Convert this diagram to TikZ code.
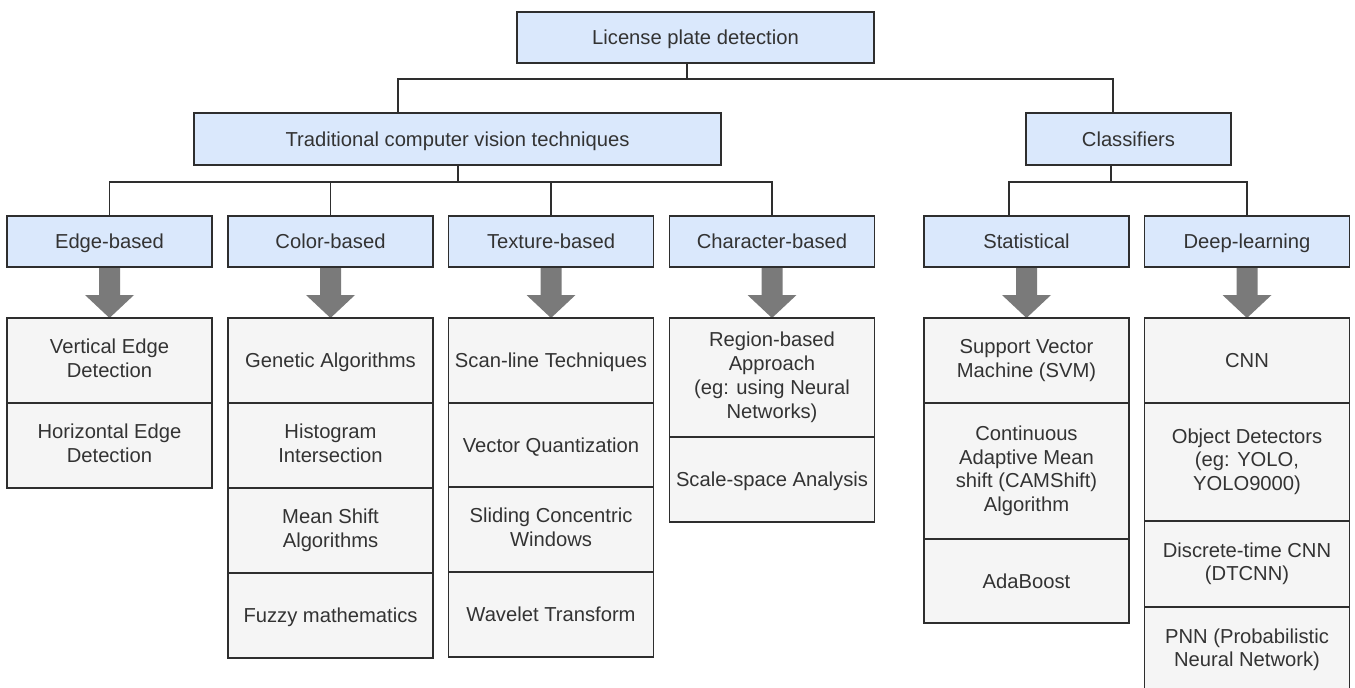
\documentclass[tikz,border=0pt]{standalone}
\usepackage{fontspec}
\setmainfont{Liberation Sans}
\usetikzlibrary{calc,backgrounds}
\definecolor{linec}{HTML}{2E2E2E}
\definecolor{textc}{HTML}{333333}
\definecolor{bluef}{HTML}{DAE8FC}
\definecolor{grayf}{HTML}{F5F5F5}
\definecolor{arrowc}{HTML}{7A7A7A}
\newcommand\mystrut{\rule[-4.65pt]{0pt}{23.7pt}}
\newcommand\fatarrow[2]{\fill[arrowc] ($(#1.south)+(-10.5,0)$) -- ($(#2.north)+(-10.5,-23)$) -- ($(#2.north)+(-24.5,-23)$) -- (#2.north) -- ($(#2.north)+(24.5,-23)$) -- ($(#2.north)+(10.5,-23)$) -- ($(#1.south)+(10.5,0)$) -- cycle;}
\tikzset{
  base/.style={draw=linec, line width=1.8pt, text=textc, align=center, inner sep=0pt, outer sep=0pt, font=\fontsize{20.2pt}{23.7pt}\selectfont, execute at begin node=\mystrut, execute at end node=\mystrut},
  cat/.style={base, fill=bluef, minimum height=51pt},
  leaf/.style={base, fill=grayf, minimum width=205pt, anchor=north},
  conn/.style={draw=linec, line width=1.8pt}
}
\begin{document}
\begin{tikzpicture}[x=1pt,y=-1pt]
\clip (0,0) rectangle (1355,688);
% top levels
\node[cat, minimum width=357pt] (top) at (695.5,37.5) {License plate detection};
\node[cat, minimum width=527pt, minimum height=52pt] (trad) at (457.5,139) {Traditional computer vision techniques};
\node[cat, minimum width=205pt, minimum height=52pt] (cls) at (1128.5,139) {Classifiers};
% categories
\node[cat, minimum width=205pt] (edge) at (109.5,241.5) {Edge-based};
\node[cat, minimum width=205pt] (color) at (330.5,241.5) {Color-based};
\node[cat, minimum width=205pt] (tex) at (551,241.5) {Texture-based};
\node[cat, minimum width=205pt] (chr) at (772,241.5) {Character-based};
\node[cat, minimum width=205pt] (stat) at (1026.5,241.5) {Statistical};
\node[cat, minimum width=205pt] (deep) at (1247,241.5) {Deep-learning};
% leaves: edge
\node[leaf, minimum height=85pt] (e1) at (109.5,318) {Vertical Edge\\Detection};
\node[leaf, minimum height=85pt] (e2) at (e1.south) {Horizontal Edge\\Detection};
% color
\node[leaf, minimum height=85pt] (c1) at (330.5,318) {Genetic Algorithms};
\node[leaf, minimum height=85pt] (c2) at (c1.south) {Histogram\\Intersection};
\node[leaf, minimum height=85pt] (c3) at (c2.south) {Mean Shift\\Algorithms};
\node[leaf, minimum height=85pt] (c4) at (c3.south) {Fuzzy mathematics};
% texture
\node[leaf, minimum height=85pt] (t1) at (551,318) {Scan-line Techniques};
\node[leaf, minimum height=84pt] (t2) at (t1.south) {Vector Quantization};
\node[leaf, minimum height=85pt] (t3) at (t2.south) {Sliding Concentric\\Windows};
\node[leaf, minimum height=85pt] (t4) at (t3.south) {Wavelet Transform};
% character
\node[leaf, minimum height=119pt] (r1) at (772,318) {Region-based\\Approach\\(eg: using Neural\\Networks)};
\node[leaf, minimum height=85pt] (r2) at (r1.south) {Scale-space Analysis};
% statistical
\node[leaf, minimum height=85pt] (s1) at (1026.5,318) {Support Vector\\Machine (SVM)};
\node[leaf, minimum height=136pt] (s2) at (s1.south) {Continuous\\Adaptive Mean\\shift (CAMShift)\\Algorithm};
\node[leaf, minimum height=84pt] (s3) at (s2.south) {AdaBoost};
% deep learning
\node[leaf, minimum height=85pt] (d1) at (1247,318) {CNN};
\node[leaf, minimum height=118pt] (d2) at (d1.south) {Object Detectors\\(eg: YOLO,\\YOLO9000)};
\node[leaf, minimum height=86pt] (d3) at (d2.south) {Discrete-time CNN\\(DTCNN)};
\node[leaf, minimum height=86pt] (d4) at (d3.south) {PNN (Probabilistic\\Neural Network)};
% connectors
\coordinate (b1) at (687,79);
\draw[conn] (top.south -| b1) -- (b1);
\draw[conn] ([xshift=-59.5pt]trad.north) |- ([xshift=-15.5pt]cls.north |- b1) -- ([xshift=-15.5pt]cls.north);
\coordinate (b2) at (458,182);
\draw[conn] (trad.south -| b2) -- (b2);
\draw[conn] (edge.north) |- (chr.north |- b2) -- (chr.north);
\draw[conn] (color.north) -- (color.north |- b2);
\draw[conn] (tex.north) -- (tex.north |- b2);
\coordinate (b3) at (1111,182);
\draw[conn] (cls.south -| b3) -- (b3);
\draw[conn] ([xshift=-17.5pt]stat.north) |- (deep.north |- b3) -- (deep.north);
% fat arrows
\begin{scope}[on background layer]
\fill[white] (0,0) rectangle (1355,688);
\fatarrow{edge}{e1}
\fatarrow{color}{c1}
\fatarrow{tex}{t1}
\fatarrow{chr}{r1}
\fatarrow{stat}{s1}
\fatarrow{deep}{d1}
\end{scope}
\end{tikzpicture}
\end{document}
